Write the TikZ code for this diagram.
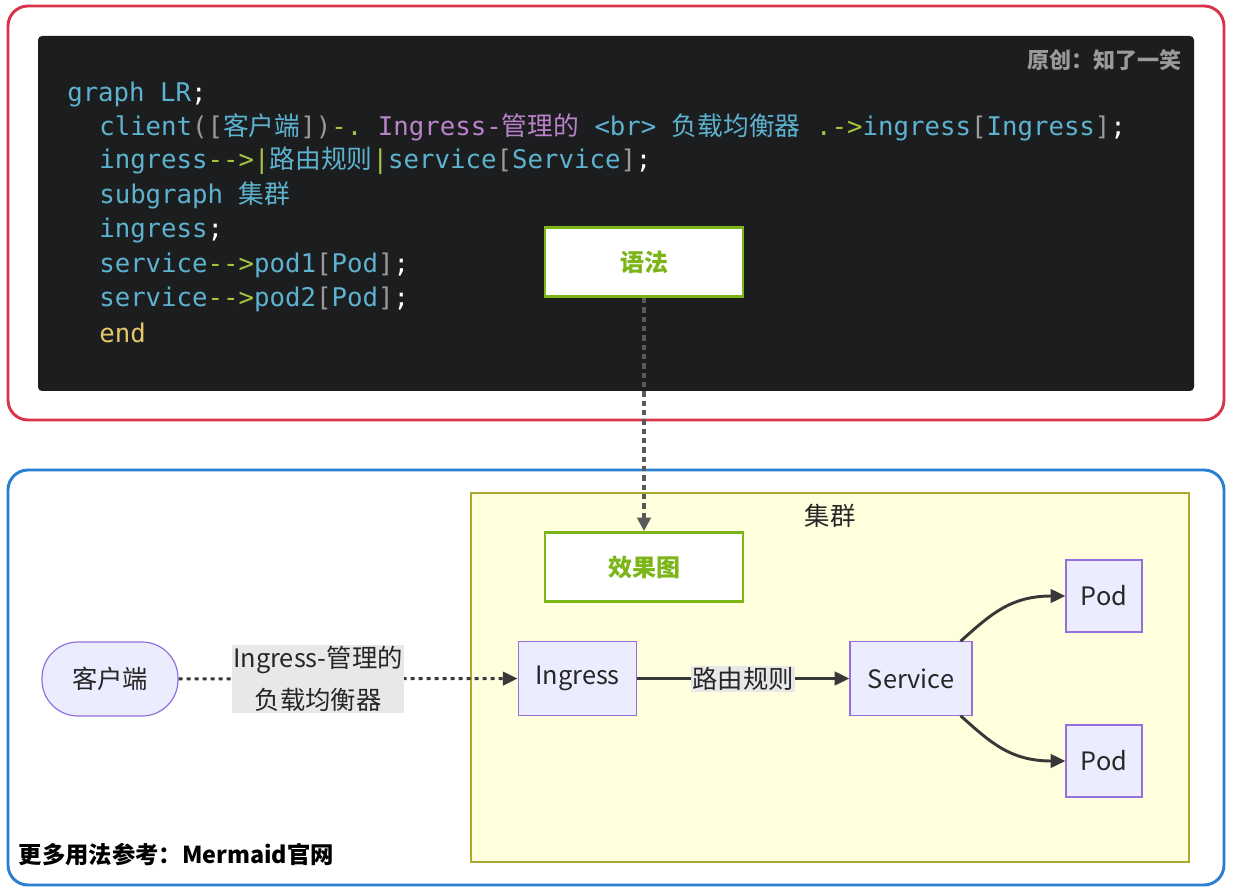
\documentclass[tikz,border=0pt]{standalone}
\usepackage{fontspec}
\setmainfont{Noto Sans CJK SC}
\setmonofont{DejaVu Sans Mono}
\newfontfamily\cjk{Noto Sans CJK SC}
\usetikzlibrary{arrows.meta}
\definecolor{cb}{HTML}{5DB3CF}
\definecolor{cy}{HTML}{A9C23F}
\definecolor{cp}{HTML}{B982C9}
\definecolor{cg}{HTML}{9A9A9A}
\definecolor{ce}{HTML}{E5C76B}
\definecolor{gr}{HTML}{7CB518}
\definecolor{nodef}{HTML}{ECECFF}
\definecolor{nodeb}{HTML}{9370DB}
\newcommand{\cc}[2]{\textcolor{#1}{#2}}
\begin{document}
\begin{tikzpicture}[x=0.75pt,y=-0.75pt,
  code/.style={anchor=west,inner sep=0pt,font=\fontsize{19.3pt}{22pt}\ttfamily,text=cb},
  gbox/.style={draw=gr,line width=2.2pt,fill=white,minimum width=148.5pt,minimum height=51.75pt,text=gr,font=\fontsize{18pt}{20pt}\bfseries},
  nd/.style={draw=nodeb,fill=nodef,line width=0.9pt,font=\fontsize{19pt}{22pt}\selectfont,text=black!85},
  lbl/.style={fill=black!9,inner sep=1pt,font=\fontsize{19pt}{32pt}\selectfont,text=black!85,align=center},
  edge/.style={line width=2.2pt,draw=black!78,-{Triangle[length=11pt,width=10pt]}}]
\useasboundingbox (0,0) rectangle (1236,891);
\fill[white] (0,0) rectangle (1236,891);
% top panel
\draw[line width=2.2pt,draw={rgb,255:red,217;green,52;blue,74},rounded corners=15pt] (8,6) rectangle (1224,420);
\fill[fill={rgb,255:red,28;green,29;blue,31},rounded corners=3pt] (38,36) rectangle (1194,391);
\node[anchor=east,text=cg,font=\fontsize{16.5pt}{18pt}\bfseries] (orig) at (1186,60) {原创：知了一笑};
\node[code] (l1) at (67,94) {graph LR\cc{white}{;}};
\node[code] (l2) at (99,127) {client\cc{cg}{([}{\cjk 客户端}\cc{cg}{])}\cc{cy}{-.} \cc{cp}{Ingress-{\cjk 管理的}} <br> {\cjk 负载均衡器} \cc{cy}{.->}ingress\cc{cg}{[}Ingress\cc{cg}{]}\cc{white}{;}};
\node[code] (l3) at (99,161) {ingress\cc{cy}{-->|}{\cjk 路由规则}\cc{cy}{|}service\cc{cg}{[}Service\cc{cg}{]}\cc{white}{;}};
\node[code] (l4) at (99,195) {subgraph {\cjk 集群}};
\node[code] (l5) at (99,230) {ingress\cc{white}{;}};
\node[code] (l6) at (99,265) {service\cc{cy}{-->}pod1\cc{cg}{[}Pod\cc{cg}{]}\cc{white}{;}};
\node[code] (l7) at (99,299) {service\cc{cy}{-->}pod2\cc{cg}{[}Pod\cc{cg}{]}\cc{white}{;}};
\node[code,text=ce] (l8) at (99,333) {end};
% bottom panel
\draw[line width=2.2pt,draw={rgb,255:red,42;green,127;blue,212},rounded corners=15pt] (8,470) rectangle (1224,885);
\draw[fill={rgb,255:red,255;green,255;blue,222},draw={rgb,255:red,170;green,170;blue,51},line width=0.9pt] (471,493) rectangle (1189,862);
\node[font=\fontsize{19pt}{22pt}\selectfont,text=black!85] (cl) at (830,516) {集群};
\node[gbox] (syn) at (644,262) {语法};
\node[gbox] (eff) at (644,567) {效果图};
\draw[line width=2.6pt,draw=black!65,dash pattern=on 4pt off 3pt,-{Triangle[length=10pt,width=10pt]}] (syn.south) -- (eff.north);
\node[nd,rounded corners=27pt,minimum width=102pt,minimum height=55.5pt] (client) at (110,679) {客户端};
\node[nd,minimum width=89pt,minimum height=55pt] (ing) at (577.5,678.5) {Ingress};
\node[nd,minimum width=91.5pt,minimum height=55pt] (svc) at (911,678.5) {Service};
\node[nd,minimum width=57pt,minimum height=54pt] (p1) at (1104,596) {Pod};
\node[nd,minimum width=57pt,minimum height=54pt] (p2) at (1104,761) {Pod};
\draw[edge,dash pattern=on 3pt off 3pt] (client) -- (ing);
\node[lbl] (l_a) at (318,679) {Ingress-管理的\\负载均衡器};
\draw[edge] (ing) -- (svc);
\node[lbl] (l_b) at (743,679) {路由规则};
\draw[edge] (svc.north east) ++(-12,0) coordinate (s1) (s1) .. controls (990,615) and (1010,596) .. (p1.west);
\draw[edge] (svc.south east) ++(-12,0) coordinate (s2) (s2) .. controls (990,742) and (1010,761) .. (p2.west);
\node[anchor=west,font=\fontsize{17.5pt}{20pt}\bfseries] (more) at (14,855) {更多用法参考：Mermaid官网};
\end{tikzpicture}
\end{document}
